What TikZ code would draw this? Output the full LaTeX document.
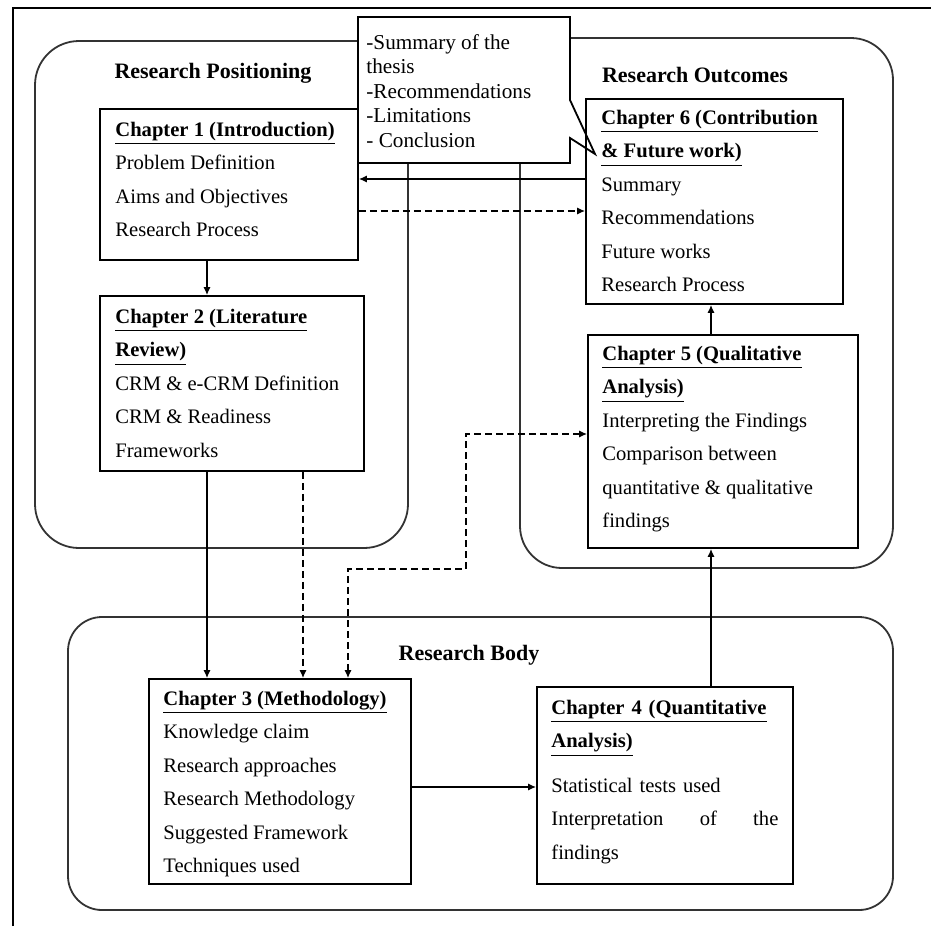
\documentclass[tikz,border=0pt]{standalone}
\usepackage{fontspec}
\setmainfont{Liberation Serif}
\usetikzlibrary{positioning,arrows.meta,fit}

\newcommand{\hd}[1]{\strut\underline{\textbf{#1}}}

\begin{document}
\begin{tikzpicture}[x=0.5pt, y=-0.5pt,
  >={Latex[length=4pt,width=3.6pt]},
  zone/.style={draw=black!80, line width=0.9pt, rounded corners=22pt, inner sep=0pt},
  chbox/.style={draw=black, line width=0.9pt, inner sep=0pt},
  body/.style={font=\fontsize{10.3}{16.75}\selectfont, align=left, inner sep=0pt,
    anchor=north west, yshift=11.725pt},
  ttl/.style={font=\fontsize{11}{13}\selectfont\bfseries, inner sep=0pt, anchor=base},
  note/.style={font=\fontsize{10.6}{12.25}\selectfont, align=left, inner sep=0pt,
    anchor=north west, yshift=8.575pt},
  arr/.style={draw=black, line width=0.7pt, ->},
  darr/.style={arr, dash pattern=on 3.5pt off 2pt}
]
\useasboundingbox (0,0) rectangle (931,926);

% outer frame, cut at right and bottom
\draw[line width=0.9pt] (13,926) -- (13,8) -- (931,8);

% the three parts
\node[zone, fit={(35,41) (408,548)}] (rpos) {};
\node[zone, rounded corners=21pt, fit={(520,38) (893,568)}] (rout) {};
\node[zone, rounded corners=17pt, fit={(68,617) (893,910)}] (rbody) {};
\node[ttl] (rposttl) at (213,78) {Research Positioning};
\node[ttl] (routttl) at (695,82) {Research Outcomes};
\node[ttl] (rbodyttl) at (469,660) {Research Body};

% callout
\draw[line width=0.9pt, fill=white] (358,17) -- (570,17) -- (570,100) -- (595,154)
  -- (570,138) -- (570,163) -- (358,163) -- cycle;
\node[note] (summ) at (366,49) {\strut-Summary of the\\thesis\\-Recommendations\\-Limitations\\- Conclusion};

% chapters
\node[chbox, fit={(100,109) (358,260)}] (ch1) {};
\node[chbox, fit={(100,296) (364,471)}] (ch2) {};
\node[chbox, fit={(149,679) (411,884)}] (ch3) {};
\node[chbox, fit={(537,687) (793,884)}] (ch4) {};
\node[chbox, fit={(588,335) (858,548)}] (ch5) {};
\node[chbox, fit={(586,99) (843,304)}] (ch6) {};

\node[body] (ch1txt) at (115,136) {\hd{Chapter 1 (Introduction)}\\Problem Definition\\Aims and Objectives\\Research Process};
\node[body] (ch2txt) at (115,323) {\hd{Chapter 2 (Literature}\\\hd{Review)}\\CRM \& e-CRM Definition\\CRM \& Readiness\\Frameworks};
\node[body] (ch3txt) at (163,705) {\hd{Chapter 3 (Methodology)}\\Knowledge claim\\Research approaches\\Research Methodology\\Suggested Framework\\Techniques used};
\node[body, text width=113.5pt] (ch4txt) at (551,714) {\hd{Chapter 4 (Quantitative}\\\hd{Analysis)}\\[5.5pt]Statistical tests used\\Interpretation\hfill of\hfill the\\findings};
\node[body] (ch5txt) at (602,360) {\hd{Chapter 5 (Qualitative}\\\hd{Analysis)}\\Interpreting the Findings\\Comparison between\\quantitative \& qualitative\\findings};
\node[body] (ch6txt) at (601,124) {\hd{Chapter 6 (Contribution}\\\hd{\& Future work)}\\Summary\\Recommendations\\Future works\\Research Process};

% arrows
\coordinate (colA) at (207,0);
\coordinate (colB) at (303,0);
\coordinate (colC) at (348,0);
\coordinate (colD) at (711,0);
\coordinate (rowA) at (0,179);
\coordinate (rowB) at (0,211);
\coordinate (rowC) at (0,434);
\coordinate (rowD) at (0,787);
\coordinate (bendA) at (466,569);

\draw[arr] (ch6.west |- rowA) -- (ch1.east |- rowA);
\draw[darr] (ch1.east |- rowB) -- (ch6.west |- rowB);
\draw[arr] (ch1.south -| colA) -- (ch2.north -| colA);
\draw[arr] (ch2.south -| colA) -- (ch3.north -| colA);
\draw[darr] (ch2.south -| colB) -- (ch3.north -| colB);
\draw[darr, <->] (ch3.north -| colC) |- (bendA) |- (ch5.west |- rowC);
\draw[arr] (ch3.east |- rowD) -- (ch4.west |- rowD);
\draw[arr] (ch4.north -| colD) -- (ch5.south -| colD);
\draw[arr] (ch5.north -| colD) -- (ch6.south -| colD);

\end{tikzpicture}
\end{document}
